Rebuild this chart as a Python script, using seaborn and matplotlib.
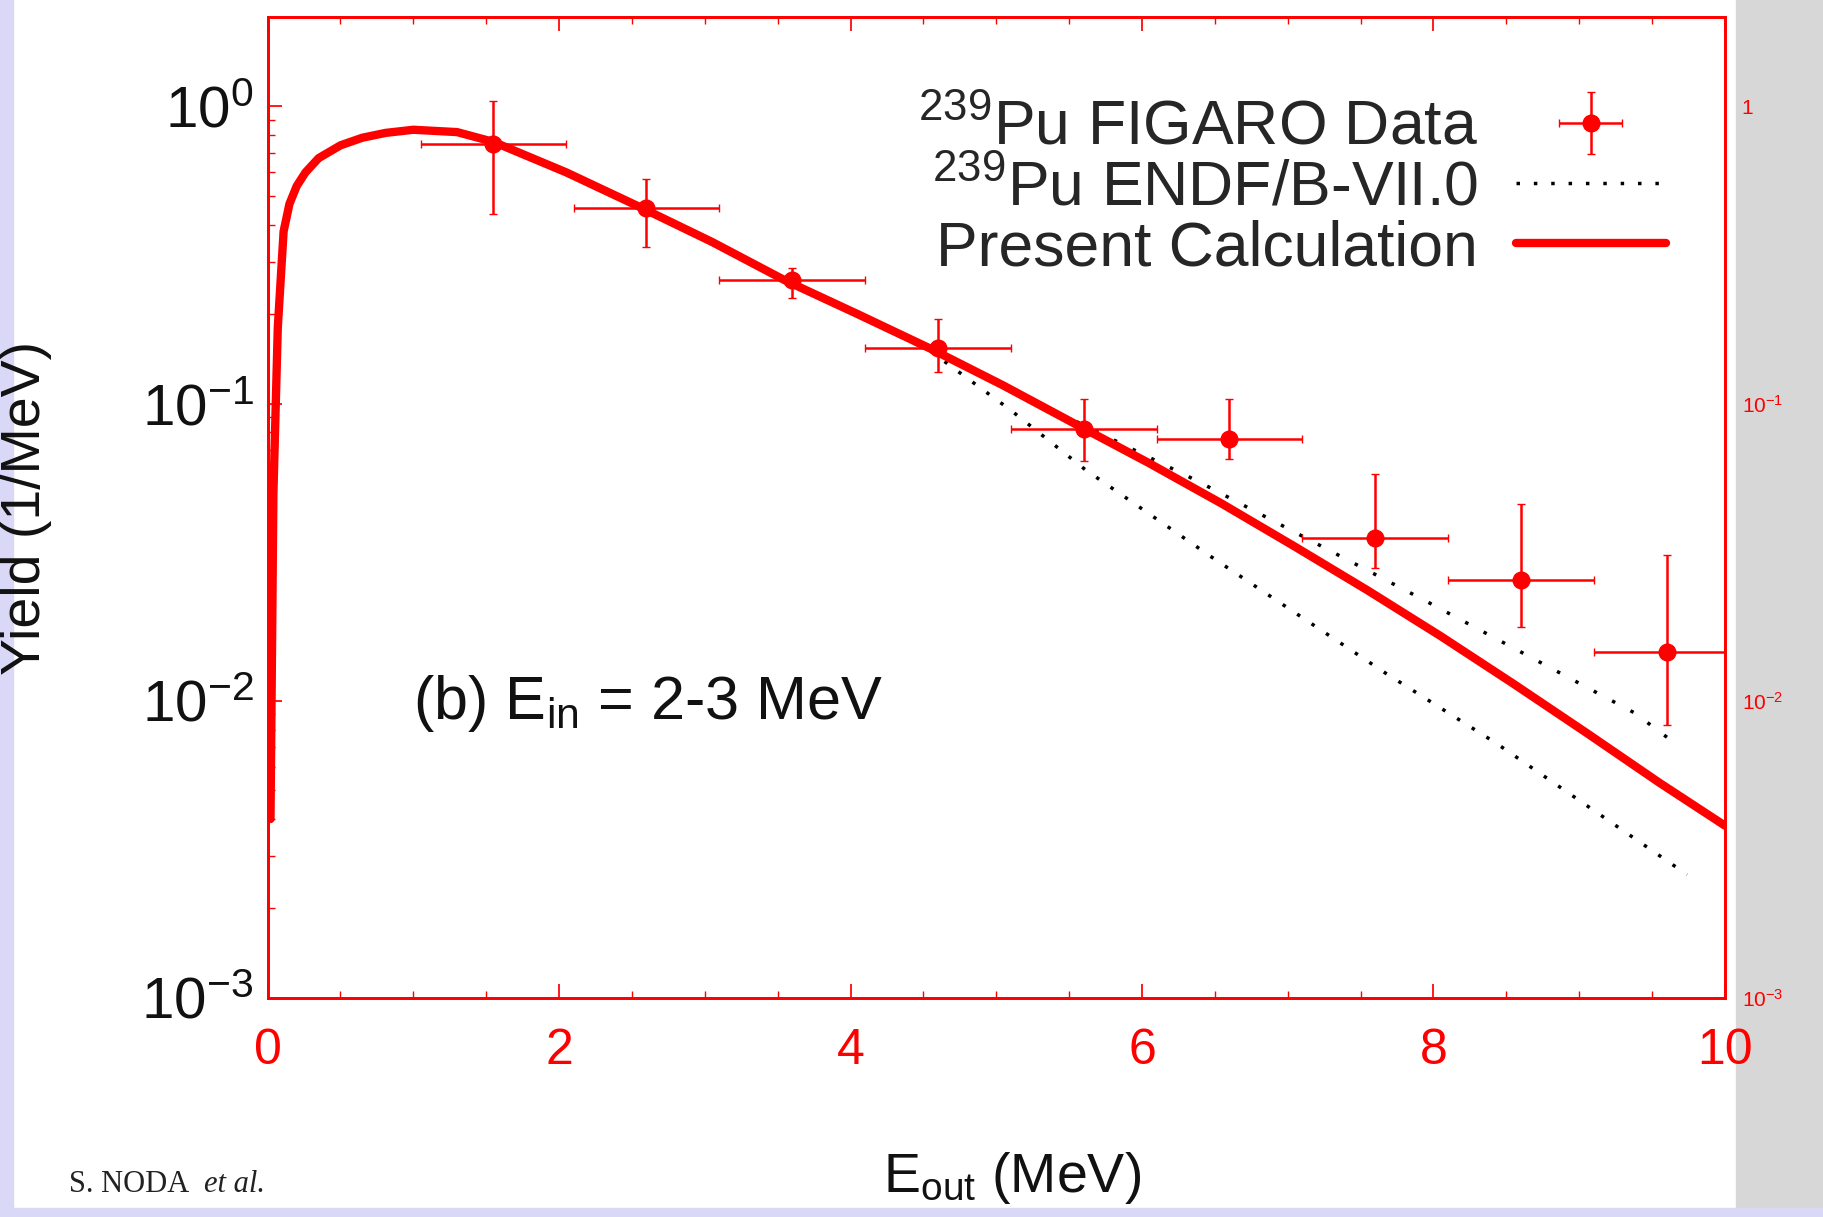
import matplotlib
matplotlib.use("Agg")
import matplotlib.pyplot as plt
import matplotlib.ticker as mticker
from matplotlib.patches import Rectangle
import numpy as np
import pandas as pd
import seaborn as sns

# 239Pu FIGARO data, E_in = 2-3 MeV (bin centre, half width, yield, error band)
figaro_e = [1.55, 2.6, 3.6, 4.6, 5.6, 6.6, 7.6, 8.6, 9.6]
figaro_halfwidth = [0.5, 0.5, 0.5, 0.5, 0.5, 0.5, 0.5, 0.5, 0.5]
figaro_yield = [0.745, 0.457, 0.26, 0.154, 0.082, 0.076, 0.0353, 0.0254, 0.0146]
figaro_lo = [0.435, 0.337, 0.227, 0.128, 0.064, 0.065, 0.0279, 0.0177, 0.0083]
figaro_hi = [1.04, 0.57, 0.287, 0.193, 0.104, 0.104, 0.058, 0.046, 0.031]

# present calculation
calc_e = [0.02, 0.04, 0.07, 0.11, 0.15, 0.2, 0.26, 0.35, 0.5, 0.65, 0.81, 1.0,
          1.3, 1.55, 2.05, 2.55, 3.05, 3.55, 4.05, 4.55, 5.05, 5.55, 6.05, 6.55,
          7.05, 7.55, 8.05, 8.55, 9.05, 9.55, 10.0]
calc_yield = [0.004, 0.05, 0.18, 0.38, 0.47, 0.54, 0.6, 0.67, 0.74, 0.785, 0.815, 0.835,
              0.82, 0.76, 0.6, 0.46, 0.35, 0.26, 0.2, 0.153, 0.115, 0.085, 0.063, 0.046,
              0.033, 0.0235, 0.0165, 0.0114, 0.0078, 0.0053, 0.0038]

# ENDF/B-VII.0 (two dotted branches)
endf_e = [0.02, 0.04, 0.07, 0.11, 0.2, 0.35, 0.5, 0.81, 1.0, 1.3, 1.55, 2.55, 3.55,
          4.55, 5.1, 5.61, 6.48, 7.67, 8.43, 9.74]
endf_yield = [0.004, 0.05, 0.18, 0.38, 0.54, 0.67, 0.74, 0.815, 0.835, 0.82, 0.76,
              0.46, 0.26, 0.15, 0.095, 0.06, 0.0304, 0.0124, 0.0072, 0.0026]
endf_hi_e = [5.55, 6.38, 7.96, 9.38, 9.64]
endf_hi_yield = [0.087, 0.0549, 0.0215, 0.0091, 0.0073]

y_ticks = [1, 0.1, 0.01, 0.001]
y_right_labels = ["1", r"10$^{-1}$", r"10$^{-2}$", r"10$^{-3}$"]
x_ticks = [0, 2, 4, 6, 8, 10]

figaro = pd.DataFrame({"e": figaro_e, "dx": figaro_halfwidth, "y": figaro_yield,
                       "lo": figaro_lo, "hi": figaro_hi})
calc = pd.DataFrame({"e": calc_e, "y": calc_yield})
endf = pd.DataFrame({"e": endf_e, "y": endf_yield})
endf_hi = pd.DataFrame({"e": endf_hi_e, "y": endf_hi_yield})

sns.set_theme(style="ticks")
plt.rcParams["font.family"] = ["Liberation Sans", "DejaVu Sans"]
plt.rcParams["mathtext.fontset"] = "custom"
plt.rcParams["mathtext.rm"] = "Liberation Sans"
plt.rcParams["mathtext.it"] = "Liberation Sans:italic"

fig = plt.figure(figsize=(18.24, 12.17), dpi=100)
fig.patches.append(Rectangle((0.952, 0), 0.048, 1, transform=fig.transFigure,
                             color="#d7d7d7", zorder=-2))
fig.patches.append(Rectangle((0, 0), 0.007, 1, transform=fig.transFigure,
                             color="#d9d9f7", zorder=-1))
fig.patches.append(Rectangle((0, 0), 1, 0.007, transform=fig.transFigure,
                             color="#d9d9f7", zorder=-1))

ax = fig.add_axes([0.1467, 0.18, 0.799, 0.806])

sns.lineplot(data=endf, x="e", y="y", ax=ax, color="black", lw=2.5,
             linestyle=(0, (1, 4)), label=r"$^{239}$Pu ENDF/B-VII.0")
sns.lineplot(data=endf_hi, x="e", y="y", ax=ax, color="black", lw=2.5,
             linestyle=(0, (1, 5)), label="_nolegend_")
sns.lineplot(data=calc, x="e", y="y", ax=ax, color="red", lw=6,
             label="Present Calculation")
ax.errorbar(figaro["e"], figaro["y"], xerr=figaro["dx"],
            yerr=[figaro["y"] - figaro["lo"], figaro["hi"] - figaro["y"]],
            fmt="o", color="red", ms=12, elinewidth=1.8, capsize=3,
            label=r"$^{239}$Pu FIGARO Data", zorder=5)

ax.set_yscale("log")
ax.set_xlim(0, 10)
ax.set_ylim(1e-3, 2.0)
ax.set_xticks(x_ticks)
ax.xaxis.set_minor_locator(mticker.MultipleLocator(0.5))
ax.set_yticks(y_ticks)
ax.tick_params(axis="y", which="major", labelsize=42, direction="in", length=10,
               color="red", pad=10, labelcolor="#111111")
ax.tick_params(axis="y", which="minor", direction="in", length=5, color="red")
ax.tick_params(axis="x", which="major", labelsize=36, direction="in", length=10,
               color="red", pad=22, labelcolor="red", top=True)
ax.tick_params(axis="x", which="minor", direction="in", length=5, color="red", top=True)
for s in ax.spines.values():
    s.set_color("red")
    s.set_linewidth(2)

ax.set_xlabel(r"E$_{\rm out}$ (MeV)", fontsize=40, color="#111111")
ax.xaxis.set_label_coords(0.511, -0.155)
ax.set_ylabel("Yield (1/MeV)", fontsize=40, color="#111111")
ax.yaxis.set_label_coords(-0.148, 0.5)

ax.text(1.0, 0.0098, r"(b) E$_{\rm in}$ = 2-3 MeV", fontsize=44, va="center",
        color="#111111")

h, l = ax.get_legend_handles_labels()
order = [l.index(r"$^{239}$Pu FIGARO Data"), l.index(r"$^{239}$Pu ENDF/B-VII.0"),
         l.index("Present Calculation")]
ax.legend([h[i] for i in order], [l[i] for i in order], loc="upper right",
          bbox_to_anchor=(0.985, 0.955), frameon=False, markerfirst=False,
          fontsize=45, handlelength=2.4, labelspacing=0.02, handletextpad=0.6,
          borderaxespad=0.2)

ax2 = ax.twinx()
ax2.set_yscale("log")
ax2.set_ylim(ax.get_ylim())
ax2.yaxis.set_major_locator(mticker.FixedLocator(y_ticks))
ax2.yaxis.set_major_formatter(mticker.FixedFormatter(y_right_labels))
ax2.yaxis.set_minor_locator(mticker.NullLocator())
ax2.tick_params(axis="y", labelsize=15, labelcolor="red", length=0, pad=12)
for s in ax2.spines.values():
    s.set_color("red")
    s.set_linewidth(2)

fig.text(0.038, 0.027, "S. NODA", family="Liberation Serif", fontsize=22,
         color="#222222", va="center")
fig.text(0.112, 0.027, "et al.", family="Liberation Serif", style="italic",
         fontsize=22, color="#222222", va="center")

fig.savefig("out.png", dpi=100)
